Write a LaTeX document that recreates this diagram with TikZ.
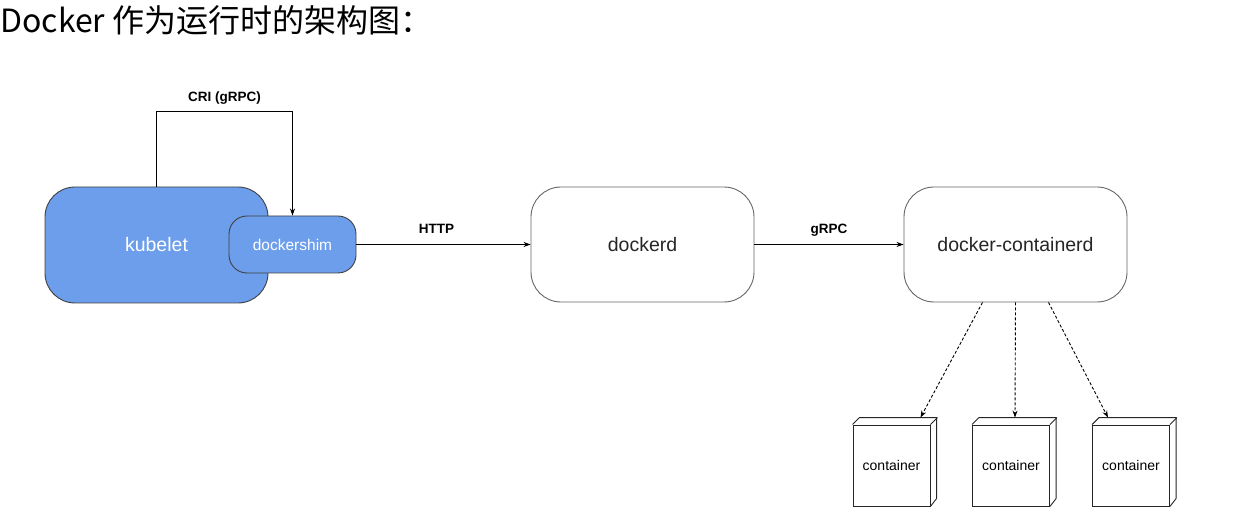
\documentclass[tikz,border=0pt]{standalone}
\usepackage{fontspec}
\setmainfont{Liberation Sans}
\newfontfamily\cjk{Noto Sans CJK SC}
\usetikzlibrary{shapes,arrows.meta,positioning}
\definecolor{kubeblue}{HTML}{6D9EEB}

\begin{document}
\begin{tikzpicture}[
      x = 1pt, y = -1pt,
      > = {Stealth[length=7pt,width=5pt]},
      line width = 0.9pt]

  \tikzstyle{proc}=[
      draw = black!60,
      fill = white,
      text = black!85,
      rounded corners = 30pt,
      minimum width = 223pt,
      minimum height = 115pt,
      font = \fontsize{19.5}{23}\selectfont]
  \tikzstyle{blueproc}=[proc, draw = black!75, fill = kubeblue, text = white]
  \tikzstyle{lbl}=[font = \bfseries\fontsize{13.5}{16}\selectfont]
  \tikzstyle{box}=[
      draw = black!85,
      minimum width = 77pt,
      minimum height = 81pt,
      inner sep = 0pt,
      font = \fontsize{14}{16}\selectfont]

  \useasboundingbox (0,0) rectangle (1234,518);

  \node[anchor=west, inner sep=0pt, font=\cjk\fontsize{32}{36}\selectfont] (title) at (0,20)
    {Docker 作为运行时的架构图：};

  \node[blueproc, minimum height=116pt] (kubelet) at (156.5,245) {kubelet};
  \node[blueproc, rounded corners=18pt, minimum width=127pt, minimum height=57pt,
        font=\fontsize{15.5}{18}\selectfont] (shim) at (292.5,244.5) {dockershim};
  \node[proc] (dockerd) at (642.5,244.5) {dockerd};
  \node[proc] (containerd) at (1015.5,244.5) {docker-containerd};

  \draw[->] (kubelet.north) -- ++(0,-75) -| (shim.north)
    node[pos=0.25, above=3pt, lbl] {CRI (gRPC)};
  \draw[->] (shim) -- (dockerd) node[pos=0.46, above=7pt, lbl] {HTTP};
  \draw[->] (dockerd) -- (containerd) node[midway, above=4pt, lbl] {gRPC};

  % containers
  \foreach \i/\x in {1/891.5, 2/1011, 3/1131} {
    \node[box] (c\i) at (\x,465.5) {container};
    \draw[black!85] (c\i.north west) -- ++(7,-7) -- ++(77,0) -- ++(0,81) -- (c\i.south east);
    \draw[black!85] (c\i.north east) -- ++(7,-7);
  }

  \draw[->, dash pattern=on 3pt off 2pt] ([xshift=-33pt]containerd.south) -- ([xshift=29pt,yshift=7pt]c1.north);
  \draw[->, dash pattern=on 3pt off 2pt] (containerd.south) -- ([xshift=4pt,yshift=7pt]c2.north);
  \draw[->, dash pattern=on 3pt off 2pt] ([xshift=33pt]containerd.south) -- ([xshift=-23pt,yshift=7pt]c3.north);
\end{tikzpicture}
\end{document}
